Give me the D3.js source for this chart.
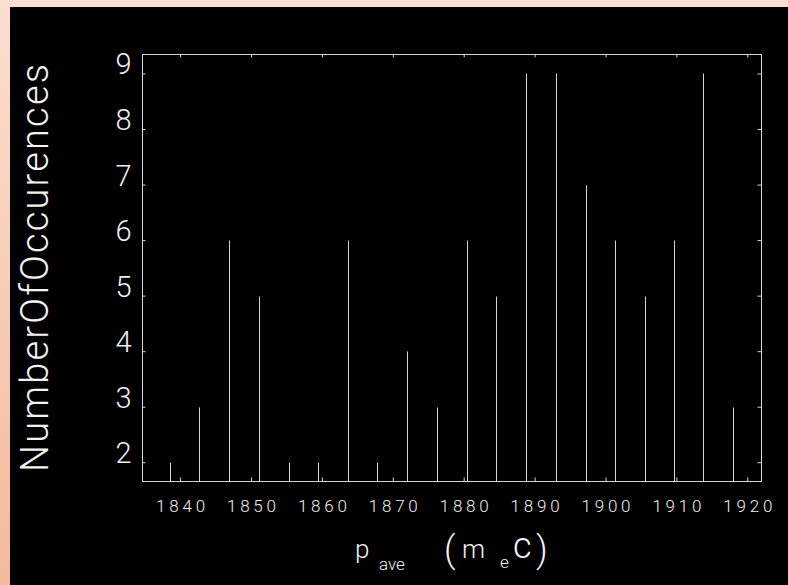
<!DOCTYPE html>
<html>
<head>
<meta charset="utf-8">
<script src="https://cdn.jsdelivr.net/npm/d3@7"></script>
<style>
  html, body { margin: 0; padding: 0; background: #f6c9b0; }
  svg { display: block; }
  text { font-family: Roboto, "Liberation Sans", sans-serif; font-weight: 300; fill: #f2f2f2; }
</style>
</head>
<body>
<svg id="chart" width="788" height="585"></svg>
<script>
// ---- data ----
const binCenters = [1838.6, 1842.7, 1846.9, 1851.1, 1855.3, 1859.5, 1863.7, 1867.8, 1872.0, 1876.2,
                    1880.4, 1884.6, 1888.8, 1893.0, 1897.2, 1901.4, 1905.6, 1909.6, 1913.8, 1918.0];
const counts     = [2, 3, 6, 5, 2, 2, 6, 2, 4, 3,
                    6, 5, 9, 9, 7, 6, 5, 6, 9, 3];
const xTickValues = [1840, 1850, 1860, 1870, 1880, 1890, 1900, 1910, 1920];
const yTickValues = [2, 3, 4, 5, 6, 7, 8, 9];
const yTitle = "NumberOfOccurences";

// ---- layout ----
const W = 788, H = 585;
const frame = { left: 142.5, right: 761.5, top: 54.5, bottom: 481.5 };
const lineColor = "#d6d6d6";

const svg = d3.select("#chart");
const defs = svg.append("defs");
const grad = defs.append("linearGradient").attr("id", "bg").attr("x1", 0).attr("y1", 0).attr("x2", 0).attr("y2", 1);
grad.append("stop").attr("offset", "0%").attr("stop-color", "#fbdfd0");
grad.append("stop").attr("offset", "100%").attr("stop-color", "#f3ba9b");
svg.append("rect").attr("width", W).attr("height", H).attr("fill", "url(#bg)");
svg.append("rect").attr("x", 10).attr("y", 7).attr("width", W - 10).attr("height", H - 7).attr("fill", "#000");

const x = d3.scaleLinear().domain([1834.7, 1922.0]).range([frame.left, frame.right]);
const y = d3.scaleLinear().domain([1.653, 9.342]).range([frame.bottom, frame.top]);

// bars (thin vertical lines from the bottom axis)
svg.append("g").selectAll("line").data(binCenters).join("line")
  .attr("x1", d => Math.round(x(d)) + 0.5)
  .attr("x2", d => Math.round(x(d)) + 0.5)
  .attr("y1", frame.bottom)
  .attr("y2", (d, i) => Math.round(y(counts[i])) + 0.5)
  .attr("stroke", lineColor).attr("stroke-width", 1);

// axes via d3 axis generators
function styleAxis(g) {
  g.select(".domain").remove();
  g.selectAll(".tick line").attr("stroke", lineColor).attr("stroke-width", 1);
}
const bottomAxis = d3.axisBottom(x).tickValues(xTickValues).tickSize(-4).tickFormat(d3.format("d"));
const topAxis = d3.axisTop(x).tickValues(xTickValues).tickSize(-3).tickFormat("");
const leftAxis = d3.axisLeft(y).tickValues(yTickValues).tickSize(-3).tickFormat(d3.format("d"));
const rightAxis = d3.axisRight(y).tickValues(yTickValues).tickSize(-4).tickFormat("");

const gB = svg.append("g").attr("transform", `translate(0,${frame.bottom})`).call(bottomAxis).call(styleAxis);
gB.selectAll(".tick text")
  .attr("y", 30.5).attr("dy", 0)
  .attr("font-size", 17)
  .attr("textLength", 49).attr("lengthAdjust", "spacing")
  .style("font-family", "Roboto, 'Liberation Sans', sans-serif").style("fill", "#f0f0f0");

svg.append("g").attr("transform", `translate(0,${frame.top})`).call(topAxis).call(styleAxis);

const gL = svg.append("g").attr("transform", `translate(${frame.left},0)`).call(leftAxis).call(styleAxis);
gL.selectAll(".tick text")
  .attr("x", -11).attr("dy", 0).attr("y", 0.5)
  .attr("font-size", 29)
  .style("font-family", "Roboto, 'Liberation Sans', sans-serif").style("fill", "#f0f0f0");

svg.append("g").attr("transform", `translate(${frame.right},0)`).call(rightAxis).call(styleAxis);

// frame
svg.append("rect")
  .attr("x", frame.left).attr("y", frame.top)
  .attr("width", frame.right - frame.left).attr("height", frame.bottom - frame.top)
  .attr("fill", "none").attr("stroke", lineColor).attr("stroke-width", 1);

// y title
svg.append("text")
  .attr("transform", `translate(48,${(frame.top + frame.bottom) / 2}) rotate(-90)`)
  .attr("text-anchor", "middle")
  .attr("font-size", 38)
  .attr("textLength", 408).attr("lengthAdjust", "spacing")
  .text(yTitle);

// x title: p_ave (m_e c)
const xt = svg.append("g");
function piece(str, px, py, size) {
  xt.append("text").attr("x", px).attr("y", py).attr("font-size", size).text(str);
}
piece("p", 355, 558, 26);
piece("ave", 379, 570, 17);
piece("(", 444, 562, 36);
piece("m", 462, 558, 26);
piece("e", 500, 568, 17);
piece("c", 513, 558, 36);
piece(")", 536, 562, 36);
</script>
</body>
</html>
